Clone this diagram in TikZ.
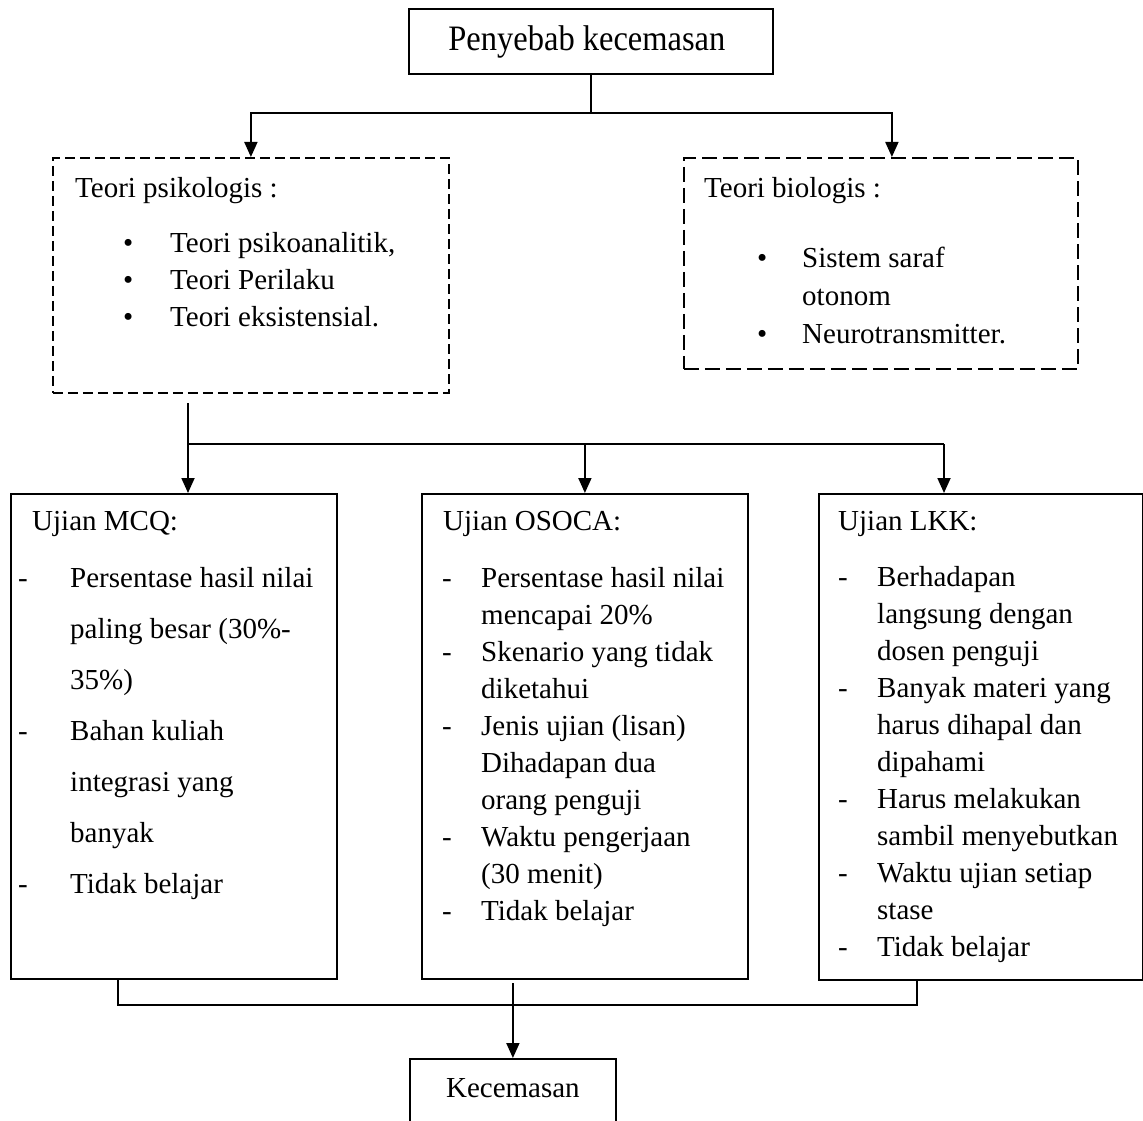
\documentclass[tikz,border=0pt]{standalone}
\usepackage{fontspec}
\setmainfont{Liberation Serif}
\usetikzlibrary{arrows.meta,calc}
\begin{document}
\begin{tikzpicture}[x=1pt,y=-1pt,
  box/.style={draw, line width=1.8pt, inner sep=0pt, anchor=north west, font=\fontsize{29}{37}\selectfont},
  dboxa/.style={box, dash pattern=on 10pt off 5pt},
  dboxb/.style={box, dash pattern=on 15pt off 6pt},
  conn/.style={line width=1.8pt},
  arr/.style={conn, -{Triangle[length=15pt,width=13pt]}},
  txt/.style={inner sep=0pt, anchor=base west, font=\fontsize{29}{37}\selectfont},
]
\clip (0,0) rectangle (1143,1121);
\fill[white] (0,0) rectangle (1143,1121);

% top box
\node[box, minimum width=364pt, text height=42pt, text depth=23pt] (top) at (408,8)
  {\hspace*{-8pt}\scalebox{1}[1.1]{\fontsize{32.5}{39}\selectfont Penyebab kecemasan}};

% dashed theory boxes
\node[dboxa, minimum width=396pt, minimum height=235pt] (psi) at (52,157) {};
\node[dboxb, minimum width=394pt, minimum height=211pt] (bio) at (683,157) {};

\node[txt] (psih) at (75,197) {Teori psikologis :};
\node[txt] (psil) at (123,252) {\begin{tabular}[t]{@{}p{47pt}@{}l@{}}
\textbullet & Teori psikoanalitik,\\
\textbullet & Teori Perilaku\\
\textbullet & Teori eksistensial.
\end{tabular}};

\node[txt] (bioh) at (704,197) {Teori biologis :};
\node[txt, font=\fontsize{29}{38}\selectfont] (biol) at (757,267) {\begin{tabular}[t]{@{}p{45pt}@{}l@{}}
\textbullet & Sistem saraf\\
 & otonom\\
\textbullet & Neurotransmitter.
\end{tabular}};

% exam boxes
\node[box, minimum width=326pt, minimum height=485pt] (mcq) at (10,493) {};
\node[box, minimum width=326pt, minimum height=485pt] (osoca) at (421,493) {};
\node[box, minimum width=324pt, minimum height=486pt] (lkk) at (818,493) {};

\node[txt] (mcqh) at (32,530) {Ujian MCQ:};
\node[txt, font=\fontsize{29}{51.1}\selectfont] (mcql) at (18,587) {\begin{tabular}[t]{@{}p{52pt}@{}l@{}}
- & Persentase hasil nilai\\
  & paling besar (30\%-\\
  & 35\%)\\
- & Bahan kuliah\\
  & integrasi yang\\
  & banyak\\
- & Tidak belajar
\end{tabular}};

\node[txt] (osocah) at (443,530) {Ujian OSOCA:};
\node[txt] (osocal) at (442,587) {\begin{tabular}[t]{@{}p{39pt}@{}l@{}}
- & Persentase hasil nilai\\
  & mencapai 20\%\\
- & Skenario yang tidak\\
  & diketahui\\
- & Jenis ujian (lisan)\\
  & Dihadapan dua\\
  & orang penguji\\
- & Waktu pengerjaan\\
  & (30 menit)\\
- & Tidak belajar
\end{tabular}};

\node[txt] (lkkh) at (838,530) {Ujian LKK:};
\node[txt] (lkkl) at (838,586) {\begin{tabular}[t]{@{}p{39pt}@{}l@{}}
- & Berhadapan\\
  & langsung dengan\\
  & dosen penguji\\
- & Banyak materi yang\\
  & harus dihapal dan\\
  & dipahami\\
- & Harus melakukan\\
  & sambil menyebutkan\\
- & Waktu ujian setiap\\
  & stase\\
- & Tidak belajar
\end{tabular}};

% result box
\node[box, minimum width=206pt, text height=39pt, text depth=31pt] (kec) at (409,1058) {Kecemasan};

% connectors
\draw[conn] (top.south) -- ++(0,38) coordinate (j0);
\draw[arr] (j0) -| (psi.north);
\draw[arr] (j0) -| ([xshift=11pt]bio.north);

\coordinate (s1) at (188,403);
\coordinate (j1) at (188,444);
\coordinate (j3) at (944,444);
\draw[arr] (s1) -- (mcq.north -| s1);
\draw[conn] (j1) -- (j3);
\draw[arr] (j1 -| osoca.north) -- (osoca.north);
\draw[arr] (j3) -- (lkk.north -| j3);

\coordinate (b1) at (118,1005);
\coordinate (b3) at (917,1005);
\coordinate (s2) at (512,983);
\draw[conn] (mcq.south -| b1) -- (b1) -- (b3) -- (lkk.south -| b3);
\draw[arr] (kec.north |- s2) -- (kec.north);
\end{tikzpicture}
\end{document}
